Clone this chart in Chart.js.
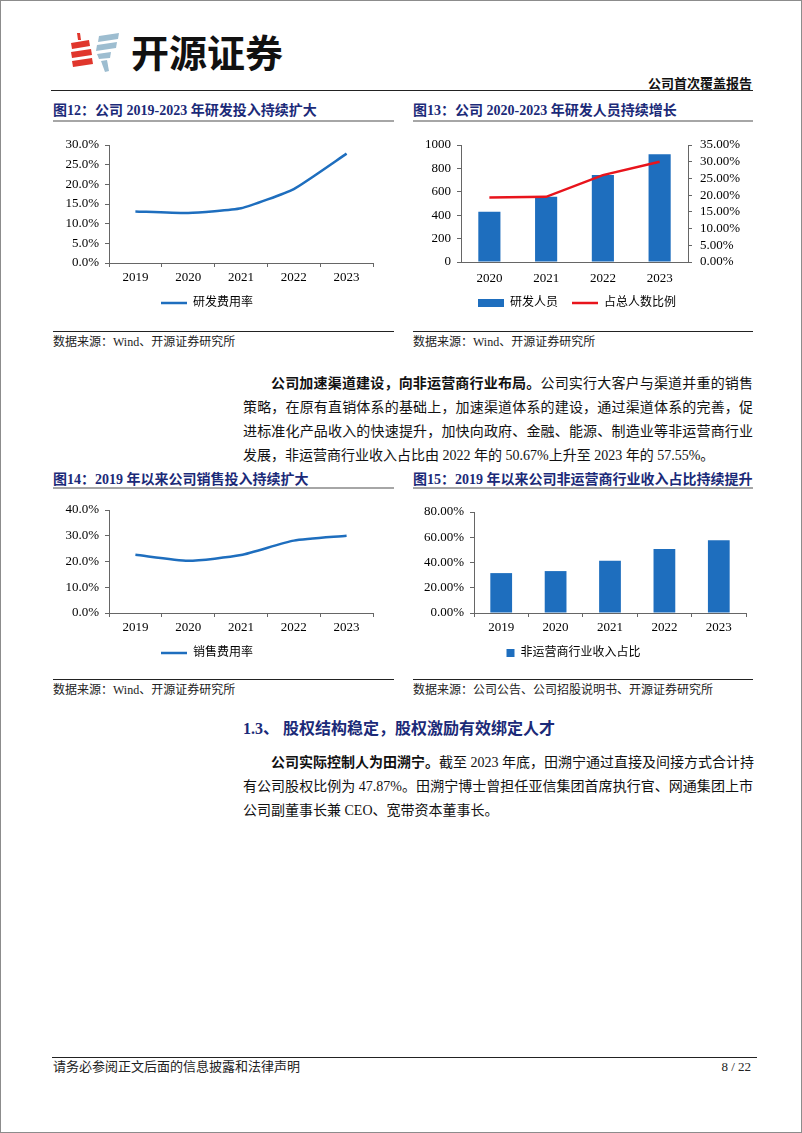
<!DOCTYPE html>
<html>
<head>
<meta charset="utf-8">
<script src="https://cdn.jsdelivr.net/npm/chart.js@4.4.1/dist/chart.umd.min.js"></script>
<style>
html, body { margin: 0; padding: 0; background: #fff; }
#page { position: relative; width: 802px; height: 1133px; box-sizing: border-box; border: 1px solid #8c8c8c; overflow: hidden;
        font-family: "Liberation Serif", "Noto Sans CJK SC", serif; color: #111; }
.abs { position: absolute; white-space: nowrap; }
.fig-title { font-size: 14px; font-weight: bold; color: #1b2a78; line-height: 20px; }
.rule { position: absolute; height: 0; }
.gray { border-top: 2px solid #a6a6a6; }
.dark { border-top: 1px solid #222; }
.src { font-size: 12px; color: #222; line-height: 16px; }
.para { position: absolute; left: 242px; width: 510px; font-size: 14px; line-height: 24px; }
.para .ln { white-space: nowrap; text-align: justify; text-align-last: justify; }
.para .ln.first { padding-left: 28px; }
.para .ln.last { text-align: left; text-align-last: left; }
canvas { position: absolute; }
</style>
</head>
<body>
<div id="page">
  <!-- 页眉 -->
  <svg class="abs" style="left:66px;top:30px" width="56" height="42" viewBox="0 0 56 42">
    <polygon points="10,2 13,2 14,9 11,9" fill="#e0362c"/>
    <polygon points="4,12 22,9 23,15 5,18" fill="#e0362c"/>
    <polygon points="4,21 24,18 25,24 5,27" fill="#e0362c"/>
    <polygon points="5,30 25,27 26,33 6,36" fill="#e0362c"/>
    <polygon points="32,5 52,2 51,8 31,11" fill="#9dbdd0"/>
    <polygon points="30,14 50,11 49,17 29,20" fill="#9dbdd0"/>
    <polygon points="30,23 44,21 43,27 32,28" fill="#9dbdd0"/>
    <polygon points="34,30 40,29 42,40 38,41" fill="#9dbdd0"/>
  </svg>
  <div class="abs" style="left:130px;top:26px;font-family:'Noto Sans CJK SC';font-weight:bold;font-size:38px;line-height:48px;color:#111">开源证券</div>
  <div class="abs" style="right:49px;top:75px;font-size:13px;font-weight:bold;line-height:16px">公司首次覆盖报告</div>
  <div class="rule dark" style="left:50px;top:89px;width:702px;border-top-width:1.5px"></div>

  <!-- 图12 / 图13 -->
  <div class="abs fig-title" style="left:52px;top:100px">图12：公司 2019-2023 年研发投入持续扩大</div>
  <div class="rule gray" style="left:52px;top:119px;width:341px"></div>
  <div class="abs fig-title" style="left:412px;top:100px">图13：公司 2020-2023 年研发人员持续增长</div>
  <div class="rule gray" style="left:412px;top:119px;width:340px"></div>
  <canvas id="c12" width="355" height="190" style="left:40px;top:128px"></canvas>
  <canvas id="c13" width="352" height="190" style="left:400px;top:128px"></canvas>
  <div class="rule dark" style="left:52px;top:330px;width:341px"></div>
  <div class="abs src" style="left:52px;top:333px">数据来源：Wind、开源证券研究所</div>
  <div class="rule dark" style="left:412px;top:330px;width:340px"></div>
  <div class="abs src" style="left:412px;top:333px">数据来源：Wind、开源证券研究所</div>

  <div class="para" style="top:371px">
    <div class="ln first"><b>公司加速渠道建设，向非运营商行业布局。</b>公司实行大客户与渠道并重的销售</div>
    <div class="ln">策略，在原有直销体系的基础上，加速渠道体系的建设，通过渠道体系的完善，促</div>
    <div class="ln">进标准化产品收入的快速提升，加快向政府、金融、能源、制造业等非运营商行业</div>
    <div class="ln last">发展，非运营商行业收入占比由 2022 年的 50.67%上升至 2023 年的 57.55%。</div>
  </div>

  <!-- 图14 / 图15 -->
  <div class="abs fig-title" style="left:52px;top:469px">图14：2019 年以来公司销售投入持续扩大</div>
  <div class="rule gray" style="left:52px;top:486px;width:341px"></div>
  <div class="abs fig-title" style="left:412px;top:469px">图15：2019 年以来公司非运营商行业收入占比持续提升</div>
  <div class="rule gray" style="left:412px;top:486px;width:340px"></div>
  <canvas id="c14" width="355" height="176" style="left:40px;top:492px"></canvas>
  <canvas id="c15" width="352" height="176" style="left:400px;top:492px"></canvas>
  <div class="rule dark" style="left:52px;top:678px;width:341px"></div>
  <div class="abs src" style="left:52px;top:681px">数据来源：Wind、开源证券研究所</div>
  <div class="rule dark" style="left:412px;top:678px;width:340px"></div>
  <div class="abs src" style="left:412px;top:681px">数据来源：公司公告、公司招股说明书、开源证券研究所</div>

  <div class="abs" style="left:242px;top:717px;font-size:16px;font-weight:bold;color:#1b2a78;line-height:22px">1.3、 股权结构稳定，股权激励有效绑定人才</div>
  <div class="para" style="top:750px">
    <div class="ln first"><b>公司实际控制人为田溯宁。</b>截至 2023 年底，田溯宁通过直接及间接方式合计持</div>
    <div class="ln">有公司股权比例为 47.87%。田溯宁博士曾担任亚信集团首席执行官、网通集团上市</div>
    <div class="ln last">公司副董事长兼 CEO、宽带资本董事长。</div>
  </div>

  <!-- 页脚 -->
  <div class="rule dark" style="left:51px;top:1056px;width:705px;border-top-width:1.5px"></div>
  <div class="abs" style="left:52px;top:1058px;font-size:13px;line-height:16px;color:#222">请务必参阅正文后面的信息披露和法律声明</div>
  <div class="abs" style="right:50px;top:1058px;font-size:13px;line-height:16px;color:#222">8 / 22</div>
</div>

<script>
// 图12 研发费用率
const rdYears = ['2019', '2020', '2021', '2022', '2023'];
const rdRate = [13.1, 12.7, 13.9, 18.8, 27.8];

// 图13 研发人员 / 占总人数比例
const staffYears = ['2020', '2021', '2022', '2023'];
const rdStaff = [430, 558, 744, 920];
const staffShare = [19.3, 19.5, 26.0, 30.0];

// 图14 销售费用率
const salesYears = ['2019', '2020', '2021', '2022', '2023'];
const salesRate = [22.6, 20.3, 22.5, 28.1, 30.0];

// 图15 非运营商行业收入占比
const nonOpYears = ['2019', '2020', '2021', '2022', '2023'];
const nonOpShare = [31.6, 33.2, 41.4, 50.67, 57.55];

const BLUE = '#1e6ebe';
const RED = '#e8141c';
const AXIS = '#666666';

Chart.defaults.font.family = '"Liberation Serif", "Noto Sans CJK SC", serif';
Chart.defaults.color = '#000';
Chart.defaults.animation = false;

// y 轴：固定宽度，刻度朝外
function yAxis(o) {
    return {
        position: o.position || 'left',
        min: 0,
        max: o.max,
        ticks: {
            stepSize: o.step,
            autoSkip: false,
            padding: o.padding || 6,
            font: { size: 13 },
            color: '#000',
            callback: o.fmt
        },
        grid: { display: true, drawOnChartArea: false, tickLength: 4, color: AXIS },
        border: { display: true, color: AXIS, width: 1 },
        afterFit: s => { s.width = o.width; }
    };
}

// x 轴：类目居中，刻度在类目分界处
function xAxis(height, tickLen, pad) {
    return {
        offset: true,
        ticks: { font: { size: 13 }, color: '#000', padding: pad, maxRotation: 0, autoSkip: false },
        grid: { display: true, offset: true, drawOnChartArea: false, tickLength: tickLen, color: AXIS },
        border: { display: true, color: AXIS, width: 1 },
        afterFit: s => { s.height = height; }
    };
}

function legend(pointW, boxH, pad) {
    return {
        position: 'bottom',
        labels: {
            usePointStyle: true,
            pointStyleWidth: pointW,
            boxHeight: boxH,
            padding: pad,
            color: '#000',
            font: { size: 12 }
        }
    };
}

const pct1 = v => v.toFixed(1) + '%';
const pct2 = v => v.toFixed(2) + '%';

new Chart(document.getElementById('c12'), {
    type: 'line',
    data: {
        labels: rdYears,
        datasets: [{
            label: '研发费用率',
            data: rdRate,
            borderColor: BLUE,
            backgroundColor: BLUE,
            borderWidth: 2.5,
            tension: 0.15,
            pointRadius: 0,
            pointStyle: 'line'
        }]
    },
    options: {
        responsive: false,
        devicePixelRatio: 1,
        layout: { padding: { top: 16, right: 23, left: 0, bottom: 0 } },
        plugins: { legend: legend(26, 8, 10), tooltip: { enabled: false } },
        scales: {
            x: xAxis(24, 4, 3),
            y: yAxis({ max: 30, step: 5, fmt: pct1, width: 68 })
        }
    }
});

new Chart(document.getElementById('c13'), {
    type: 'bar',
    data: {
        labels: staffYears,
        datasets: [
            {
                type: 'line',
                label: '占总人数比例',
                data: staffShare,
                yAxisID: 'y1',
                borderColor: RED,
                backgroundColor: RED,
                borderWidth: 2.5,
                tension: 0,
                pointRadius: 0,
                pointStyle: 'line',
                order: 0
            },
            {
                label: '研发人员',
                data: rdStaff,
                yAxisID: 'y',
                backgroundColor: BLUE,
                barPercentage: 0.78,
                categoryPercentage: 0.5,
                pointStyle: 'rect',
                order: 1
            }
        ]
    },
    options: {
        responsive: false,
        devicePixelRatio: 1,
        layout: { padding: { top: 16, right: 0, left: 0, bottom: 0 } },
        plugins: {
            legend: Object.assign(legend(26, 8, 14), {
                reverse: true
            }),
            tooltip: { enabled: false }
        },
        scales: {
            x: xAxis(21, 0, 9),
            y: yAxis({ max: 1000, step: 200, fmt: v => v, width: 60 }),
            y1: yAxis({ position: 'right', max: 35, step: 5, fmt: pct2, width: 65, padding: 8 })
        }
    }
});

new Chart(document.getElementById('c14'), {
    type: 'line',
    data: {
        labels: salesYears,
        datasets: [{
            label: '销售费用率',
            data: salesRate,
            borderColor: BLUE,
            backgroundColor: BLUE,
            borderWidth: 2.5,
            tension: 0.2,
            pointRadius: 0,
            pointStyle: 'line'
        }]
    },
    options: {
        responsive: false,
        devicePixelRatio: 1,
        layout: { padding: { top: 17, right: 23, left: 0, bottom: 0 } },
        plugins: { legend: legend(26, 8, 10), tooltip: { enabled: false } },
        scales: {
            x: xAxis(24, 4, 3),
            y: yAxis({ max: 40, step: 10, fmt: pct1, width: 68 })
        }
    }
});

new Chart(document.getElementById('c15'), {
    type: 'bar',
    data: {
        labels: nonOpYears,
        datasets: [{
            label: '非运营商行业收入占比',
            data: nonOpShare,
            backgroundColor: BLUE,
            barPercentage: 0.8,
            categoryPercentage: 0.5,
            pointStyle: 'rect'
        }]
    },
    options: {
        responsive: false,
        devicePixelRatio: 1,
        layout: { padding: { top: 19, right: 7, left: 0, bottom: 0 } },
        plugins: { legend: legend(8, 8, 10), tooltip: { enabled: false } },
        scales: {
            x: xAxis(24, 4, 3),
            y: yAxis({ max: 80, step: 20, fmt: pct2, width: 73 })
        }
    }
});
</script>
</body>
</html>
